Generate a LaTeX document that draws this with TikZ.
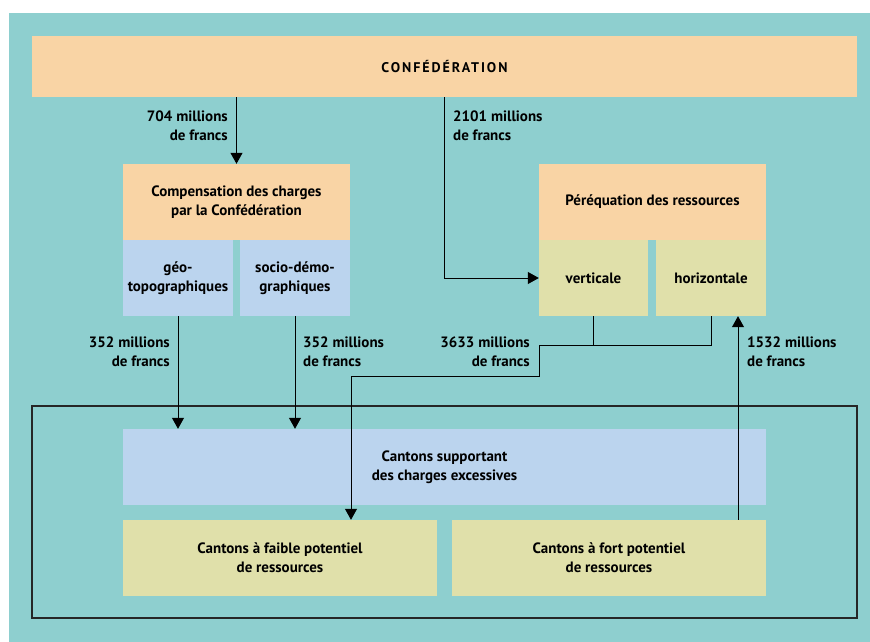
\documentclass[tikz,border=0pt]{standalone}
\usepackage{fontspec}
\setmainfont{PT Sans}
\usetikzlibrary{positioning, arrows.meta}
\definecolor{bgteal}{RGB}{142,207,207}
\definecolor{boxorange}{RGB}{249,212,165}
\definecolor{boxblue}{RGB}{187,212,238}
\definecolor{boxyellow}{RGB}{224,224,170}

\begin{document}
\begin{tikzpicture}[x=1pt, y=-1pt,
		box/.style 2 args={
			rectangle,
			fill=#2,
			minimum width=#1,
			minimum height=76pt,
			inner sep=0pt,
			align=center,
			font=\fontsize{15}{19}\selectfont\bfseries},
		amount/.style={
			inner sep=0pt,
			font=\fontsize{15}{19}\selectfont\bfseries},
		arr/.style={line width=1pt, -{Triangle[length=11pt, width=12pt]}},
		link/.style={line width=1pt}
		]
		\useasboundingbox (0,0) rectangle (870,642);
		\fill[bgteal] (9,13) rectangle (870,642);
		
		% top bar
		\node[box={825pt}{boxorange}, minimum height=61pt] (conf) at (444.5,66.5)
			{\fontsize{14}{19}\selectfont\addfontfeatures{LetterSpace=14}CONFÉDÉRATION};
		
		% compensation des charges
		\node[box={227pt}{boxorange}] (comp) at (236.5,202) {Compensation des charges\\par la Confédération};
		\node[box={110pt}{boxblue}] (geo) at (178,278) {géo-\\topographiques};
		\node[box={110pt}{boxblue}] (socio) at (295,278) {socio-démo-\\graphiques};
		
		% péréquation des ressources
		\node[box={227pt}{boxorange}] (pereq) at (652.5,202) {Péréquation des ressources};
		\node[box={109pt}{boxyellow}] (vert) at (593.5,278) {verticale};
		\node[box={110pt}{boxyellow}] (horiz) at (711,278) {horizontale};
		
		% cantons
		\node[draw=black!85, line width=1.4pt, minimum width=825pt, minimum height=212pt, inner sep=0pt] (frame) at (444.5,512) {};
		\node[box={643pt}{boxblue}] (supp) at (444.5,467) {Cantons supportant\\des charges excessives};
		\node[box={314pt}{boxyellow}] (faible) at (280,558) {Cantons à faible potentiel\\de ressources};
		\node[box={314pt}{boxyellow}] (fort) at (609,558) {Cantons à fort potentiel\\de ressources};
		
		% flows
		\draw[arr] (comp.north |- conf.south) -- (comp.north);
		\node[amount, align=right, anchor=east] (l704) at (228,126) {704 millions\\de francs};
		
		\draw[arr] (conf.south) |- (vert.west);
		\node[amount, align=left, anchor=west] (l2101) at (453,126) {2101 millions\\de francs};
		
		\draw[arr] (geo.south) -- (geo.south |- supp.north);
		\node[amount, align=right, anchor=east] (l352a) at (170,352) {352 millions\\de francs};
		
		\draw[arr] (socio.south) -- (socio.south |- supp.north);
		\node[amount, align=left, anchor=west] (l352b) at (303,352) {352 millions\\de francs};
		
		\coordinate (join) at (539,345);
		\coordinate (jog) at (539,376);
		\coordinate (drop) at (351,376);
		\draw[link] (vert.south) -- (vert.south |- join);
		\draw[arr] (horiz.south) |- (join) -- (jog) -- (drop) -- (drop |- faible.north);
		\node[amount, align=right, anchor=east] (l3633) at (530,352) {3633 millions\\de francs};
		
		\draw[arr] ([xshift=129pt]fort.north) -- ([xshift=129pt]fort.north |- horiz.south);
		\node[amount, align=left, anchor=west] (l1532) at (747,352) {1532 millions\\de francs};
\end{tikzpicture}
\end{document}
